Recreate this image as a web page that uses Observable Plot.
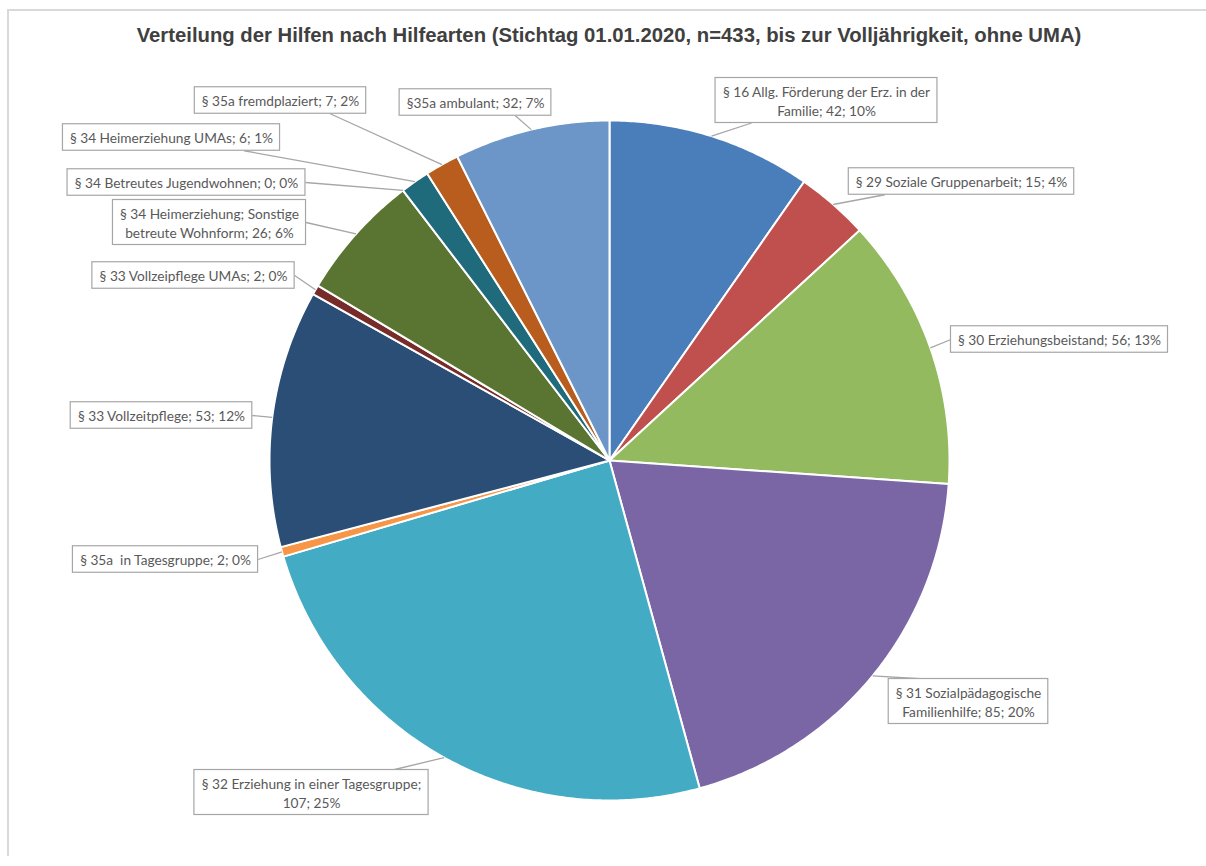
<!DOCTYPE html>
<html><head><meta charset="utf-8">
<script src="https://cdn.jsdelivr.net/npm/d3@7"></script>
<script src="https://cdn.jsdelivr.net/npm/@observablehq/plot@0.6"></script>
<style>
html,body{margin:0;padding:0;background:#fff;}
#frame{position:absolute;left:7px;top:9px;width:1199px;height:845px;border-top:2px solid #D9D9D9;border-left:2px solid #D9D9D9;}
#title{position:absolute;left:0;top:0;width:1218px;height:60px;line-height:70px;text-align:center;font-family:"Liberation Sans",Arial,sans-serif;font-weight:bold;font-size:20.3px;color:#404040;}
#chart{position:absolute;left:0;top:60px;}
</style></head><body>
<div id="frame"></div>
<div id="title">Verteilung der Hilfen nach Hilfearten (Stichtag 01.01.2020, n=433, bis zur Volljährigkeit, ohne UMA)</div>
<div id="chart"></div>
<script>
// ---- data (clockwise from 12 o'clock) ----
const categories = [
  "§ 16 Allg. Förderung der Erz. in der Familie",
  "§ 29 Soziale Gruppenarbeit",
  "§ 30 Erziehungsbeistand",
  "§ 31 Sozialpädagogische Familienhilfe",
  "§ 32 Erziehung in einer Tagesgruppe",
  "§ 35a  in Tagesgruppe",
  "§ 33 Vollzeitpflege",
  "§ 33 Vollzeipflege UMAs",
  "§ 34 Heimerziehung; Sonstige betreute Wohnform",
  "§ 34 Betreutes Jugendwohnen",
  "§ 34 Heimerziehung UMAs",
  "§ 35a fremdplaziert",
  "§35a ambulant"
];
const values   = [42, 15, 56, 85, 107, 2, 53, 2, 26, 0, 6, 7, 32];
const percents = [10, 4, 13, 20, 25, 0, 12, 0, 6, 0, 1, 2, 7];
const colors = ["#4A7EBB","#C0504D","#93BA5E","#7B66A5","#43ABC4","#F79646","#2A4E76","#772C2A","#5A7532","#4D3B62","#1F6B7C","#B85D1E","#6C96C8"];

// ---- layout (page coordinates) ----
const TOP = 60;
const CX = 609, CY = 460, R = 340;
const labelLayout = [
  {x: 826, y: 100, side: "b", breakAfter: "in der "},
  {x: 961, y: 181, side: "b"},
  {x: 1059, y: 339, side: "l"},
  {x: 968, y: 701, side: "t", breakAfter: "Sozialpädagogische "},
  {x: 311, y: 792, side: "t", breakAfter: "Tagesgruppe; "},
  {x: 165, y: 559, side: "r"},
  {x: 161, y: 415, side: "r"},
  {x: 193, y: 275, side: "r"},
  {x: 209, y: 222, side: "r", breakAfter: "Sonstige "},
  {x: 186, y: 182, side: "r"},
  {x: 171, y: 137, side: "b"},
  {x: 280, y: 100, side: "b"},
  {x: 475, y: 102, side: "b"}
];
const FS = 13.7, LH = 18.5, PADX = 7, PADY = 4, INSET = 36;

const ctx = document.createElement("canvas").getContext("2d");
ctx.font = `${FS}px Lato`;
const measure = s => ctx.measureText(s).width;

const total = d3.sum(values);
const cx = CX, cy = CY - TOP;
const pt = a => [cx + R * Math.sin(a), cy - R * Math.cos(a)];

let acc = 0;
const slices = values.map((v, i) => {
  const a0 = acc / total * 2 * Math.PI; acc += v;
  const a1 = acc / total * 2 * Math.PI;
  const n = Math.max(2, Math.ceil((a1 - a0) / (Math.PI / 360)));
  const pts = [[cx, cy]];
  for (let k = 0; k <= n; k++) pts.push(pt(a0 + (a1 - a0) * k / n));
  return {i, v, a0, a1, mid: (a0 + a1) / 2, pts};
});

const boxes = categories.map((c, i) => {
  const L = labelLayout[i];
  let full = `${c}; ${values[i]}; ${percents[i]}%`;
  let lines = [full];
  if (L.breakAfter) {
    const k = full.indexOf(L.breakAfter) + L.breakAfter.length;
    lines = [full.slice(0, k).trimEnd(), full.slice(k)];
  }
  const w = d3.max(lines, measure) + 2 * PADX;
  const h = lines.length * LH + 2 * PADY;
  const y = L.y - TOP;
  return {i, text: lines.join("\n"), cx: L.x, cy: y, x1: L.x - w / 2, x2: L.x + w / 2, y1: y - h / 2, y2: y + h / 2, side: L.side};
});

const clamp = (v, a, b) => Math.max(a, Math.min(b, v));
const leaders = boxes.map(b => {
  const [px, py] = pt(slices[b.i].mid);
  let ax, ay;
  if (b.side === "b" || b.side === "t") {
    ax = clamp(px, b.x1 + INSET, b.x2 - INSET);
    ay = b.side === "b" ? b.y2 : b.y1;
  } else {
    ax = b.side === "r" ? b.x2 : b.x1;
    ay = b.cy;
  }
  return {x1: px, y1: py, x2: ax, y2: ay};
});

const sliceMarks = slices.filter(s => s.v > 0).map(s =>
  Plot.line(s.pts, {x: d => d[0], y: d => d[1], fill: colors[s.i], stroke: "white", strokeWidth: 2, strokeLinejoin: "round", curve: "linear-closed"})
);

const chart = Plot.plot({
  width: 1206, height: 806, margin: 0,
  x: {domain: [0, 1206], range: [0, 1206], axis: null},
  y: {domain: [0, 806], range: [0, 806], axis: null},
  style: {background: "transparent", overflow: "visible"},
  marks: [
    ...sliceMarks,
    Plot.link(leaders, {x1: "x1", y1: "y1", x2: "x2", y2: "y2", stroke: "#A6A6A6", strokeWidth: 1.3}),
    Plot.rect(boxes, {x1: "x1", x2: "x2", y1: "y1", y2: "y2", fill: "white", stroke: "#A6A6A6", strokeWidth: 1.2}),
    Plot.text(boxes, {x: "cx", y: "cy", text: "text", fontSize: FS, fontFamily: "Lato", fill: "#595959", lineHeight: LH / FS, textAnchor: "middle", lineAnchor: "middle"})
  ]
});
document.getElementById("chart").appendChild(chart);
</script>
</body></html>
